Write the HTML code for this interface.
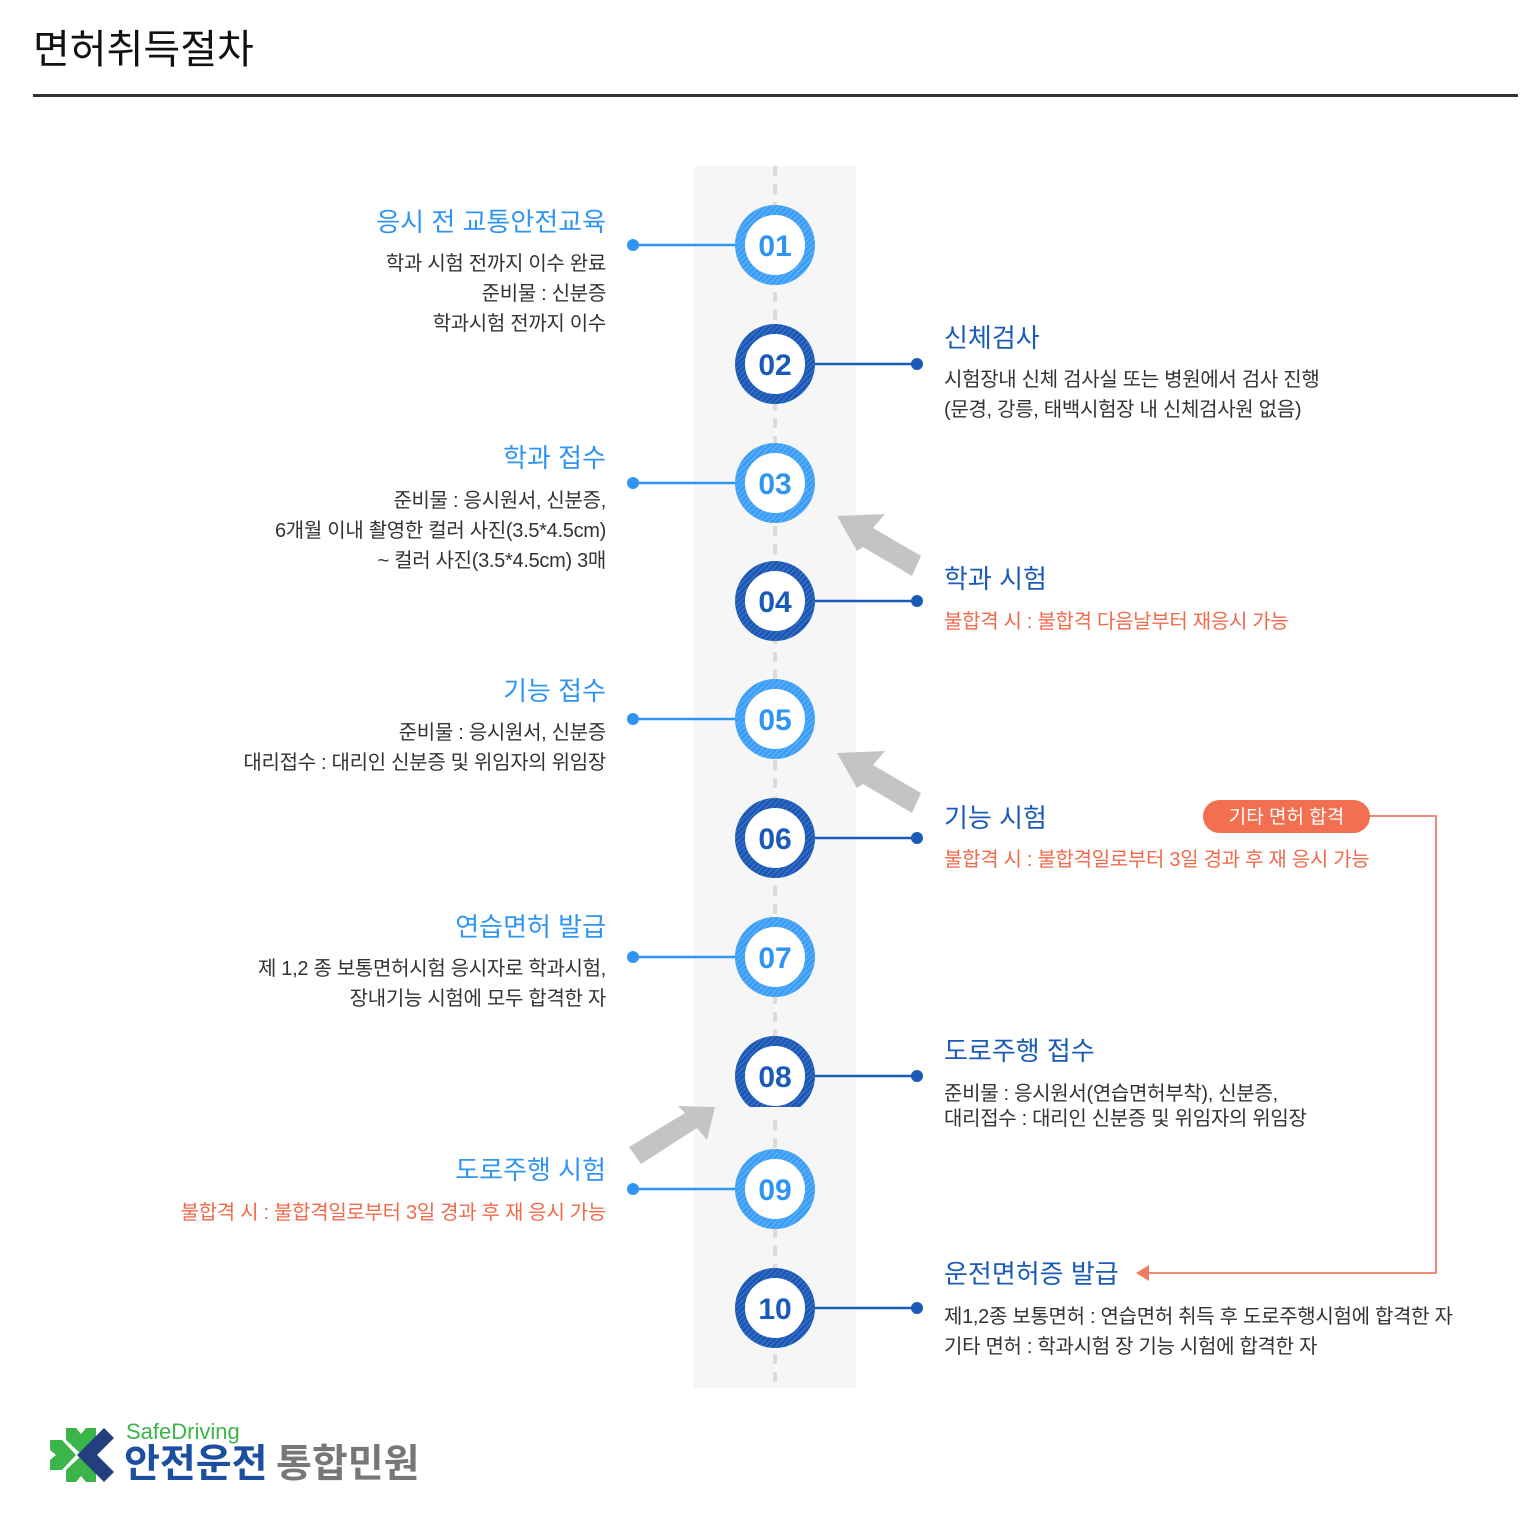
<!DOCTYPE html>
<html><head><meta charset="utf-8">
<style>
*{margin:0;padding:0;box-sizing:border-box}
body{width:1527px;height:1522px;background:#fff;position:relative;overflow:hidden;font-family:"Liberation Sans","Noto Sans CJK KR",sans-serif;}
.t{position:absolute;white-space:nowrap;}
.L{right:921px;text-align:right;}
.R{left:944px;text-align:left;}
.h{font-size:26px;height:34px;line-height:34px;margin-top:2px}
.hl{color:#3094f2;}
.hr{color:#1a5bb8;}
.b{font-size:20px;color:#333;height:30px;line-height:30px;letter-spacing:-0.3px;margin-top:3px}
.o{color:#f06a4a;}
</style></head><body>
<div class="t" style="left:33px;top:25px;font-size:40px;line-height:50px;color:#111;">면허취득절차</div>
<div style="position:absolute;left:33px;top:94px;width:1485px;height:3px;background:#333"></div>

<svg width="1527" height="1522" style="position:absolute;left:0;top:0">
<defs>
<pattern id="pl" width="4" height="4" patternUnits="userSpaceOnUse" patternTransform="rotate(45)"><rect width="4" height="4" fill="#3a9cf5"/><rect width="1.3" height="4" fill="#5fb2fa"/></pattern>
<pattern id="pd" width="4" height="4" patternUnits="userSpaceOnUse" patternTransform="rotate(45)"><rect width="4" height="4" fill="#1b56b3"/><rect width="1.3" height="4" fill="#3a74c8"/></pattern>
</defs>
<rect x="694" y="166" width="162" height="1222" fill="#f6f6f6"/>
<line x1="775" y1="166" x2="775" y2="1388" stroke="#dcdcdc" stroke-width="4" stroke-dasharray="10,8"/>
<g stroke-width="2.5">
<line x1="633" y1="245" x2="740" y2="245" stroke="#3094f2"/><circle cx="633" cy="245" r="6" fill="#3094f2"/>
<line x1="810" y1="364" x2="917" y2="364" stroke="#1a5bb8"/><circle cx="917" cy="364" r="6" fill="#1a5bb8"/>
<line x1="633" y1="483" x2="740" y2="483" stroke="#3094f2"/><circle cx="633" cy="483" r="6" fill="#3094f2"/>
<line x1="810" y1="601" x2="917" y2="601" stroke="#1a5bb8"/><circle cx="917" cy="601" r="6" fill="#1a5bb8"/>
<line x1="633" y1="719" x2="740" y2="719" stroke="#3094f2"/><circle cx="633" cy="719" r="6" fill="#3094f2"/>
<line x1="810" y1="838" x2="917" y2="838" stroke="#1a5bb8"/><circle cx="917" cy="838" r="6" fill="#1a5bb8"/>
<line x1="633" y1="957" x2="740" y2="957" stroke="#3094f2"/><circle cx="633" cy="957" r="6" fill="#3094f2"/>
<line x1="810" y1="1076" x2="917" y2="1076" stroke="#1a5bb8"/><circle cx="917" cy="1076" r="6" fill="#1a5bb8"/>
<line x1="633" y1="1189" x2="740" y2="1189" stroke="#3094f2"/><circle cx="633" cy="1189" r="6" fill="#3094f2"/>
<line x1="810" y1="1308" x2="917" y2="1308" stroke="#1a5bb8"/><circle cx="917" cy="1308" r="6" fill="#1a5bb8"/>
</g>
<g fill="#fff" stroke-width="10">
<circle cx="775" cy="245" r="35" stroke="url(#pl)"/>
<circle cx="775" cy="364" r="35" stroke="url(#pd)"/>
<circle cx="775" cy="483" r="35" stroke="url(#pl)"/>
<circle cx="775" cy="601" r="35" stroke="url(#pd)"/>
<circle cx="775" cy="719" r="35" stroke="url(#pl)"/>
<circle cx="775" cy="838" r="35" stroke="url(#pd)"/>
<circle cx="775" cy="957" r="35" stroke="url(#pl)"/>
<circle cx="775" cy="1076" r="35" stroke="url(#pd)"/>
<circle cx="775" cy="1189" r="35" stroke="url(#pl)"/>
<circle cx="775" cy="1308" r="35" stroke="url(#pd)"/>
</g>
<rect x="730" y="1107" width="90" height="9" fill="#f6f6f6"/>
<g font-family="Liberation Sans, sans-serif" font-size="30" font-weight="bold" text-anchor="middle">
<text x="775" y="256" fill="#3094f2">01</text>
<text x="775" y="375" fill="#1a5bb8">02</text>
<text x="775" y="494" fill="#3094f2">03</text>
<text x="775" y="612" fill="#1a5bb8">04</text>
<text x="775" y="730" fill="#3094f2">05</text>
<text x="775" y="849" fill="#1a5bb8">06</text>
<text x="775" y="968" fill="#3094f2">07</text>
<text x="775" y="1087" fill="#1a5bb8">08</text>
<text x="775" y="1200" fill="#3094f2">09</text>
<text x="775" y="1319" fill="#1a5bb8">10</text>
</g>
<g fill="#c4c4c4">
<polygon points="837,516 885,514 873,528 921,556 912,576 863,547 857,551"/>
<polygon points="837,753 885,751 873,765 921,793 912,813 863,784 857,788"/>
<polygon points="715,1107 707,1140 697,1128 641,1164 629,1147 685,1113 678,1106"/>
</g>
<rect x="1203" y="800" width="167" height="33" rx="16.5" fill="#f26f52"/>
<polyline points="1370,816 1436,816 1436,1273 1146,1273" fill="none" stroke="#f07a62" stroke-width="1.8"/>
<polygon points="1136,1273 1149,1265 1149,1281" fill="#f07a62"/>
<g fill="#3bb54a">
<path d="M66,1428 l10,0 l5,6 l5,-6 l10,0 l0,12 l-15,14 l-15,-14 z"/>
<path d="M66,1482 l10,0 l5,-6 l5,6 l10,0 l0,-12 l-15,-14 l-15,14 z"/>
<path d="M50,1440 l0,10 l6,5 l-6,5 l0,10 l12,0 l14,-15 l-14,-15 z"/>
</g>
<path d="M114,1438 l-10,-10 l-27,27 l27,27 l10,-10 l-17,-17 z" fill="#233f7e"/>
</svg>

<div class="t" style="left:1203px;top:801px;width:167px;height:33px;line-height:33px;text-align:center;color:#fff;font-size:19px;">기타 면허 합격</div>

<div class="t L h hl" style="top:203px">응시 전 교통안전교육</div>
<div class="t L b" style="top:246px">학과 시험 전까지 이수 완료</div>
<div class="t L b" style="top:276px">준비물 : 신분증</div>
<div class="t L b" style="top:306px">학과시험 전까지 이수</div>

<div class="t R h hr" style="top:319px">신체검사</div>
<div class="t R b" style="top:362px">시험장내 신체 검사실 또는 병원에서 검사 진행</div>
<div class="t R b" style="top:392px">(문경, 강릉, 태백시험장 내 신체검사원 없음)</div>

<div class="t L h hl" style="top:439px">학과 접수</div>
<div class="t L b" style="top:483px">준비물 : 응시원서, 신분증,</div>
<div class="t L b" style="top:513px">6개월 이내 촬영한 컬러 사진(3.5*4.5cm)</div>
<div class="t L b" style="top:543px">~ 컬러 사진(3.5*4.5cm) 3매</div>

<div class="t R h hr" style="top:560px">학과 시험</div>
<div class="t R b o" style="top:604px">불합격 시 : 불합격 다음날부터 재응시 가능</div>

<div class="t L h hl" style="top:672px">기능 접수</div>
<div class="t L b" style="top:715px">준비물 : 응시원서, 신분증</div>
<div class="t L b" style="top:745px">대리접수 : 대리인 신분증 및 위임자의 위임장</div>

<div class="t R h hr" style="top:799px">기능 시험</div>
<div class="t R b o" style="top:842px">불합격 시 : 불합격일로부터 3일 경과 후 재 응시 가능</div>

<div class="t L h hl" style="top:908px">연습면허 발급</div>
<div class="t L b" style="top:951px">제 1,2 종 보통면허시험 응시자로 학과시험,</div>
<div class="t L b" style="top:981px">장내기능 시험에 모두 합격한 자</div>

<div class="t R h hr" style="top:1032px">도로주행 접수</div>
<div class="t R b" style="top:1076px">준비물 : 응시원서(연습면허부착), 신분증,</div>
<div class="t R b" style="top:1101px">대리접수 : 대리인 신분증 및 위임자의 위임장</div>

<div class="t L h hl" style="top:1151px">도로주행 시험</div>
<div class="t L b o" style="top:1195px">불합격 시 : 불합격일로부터 3일 경과 후 재 응시 가능</div>

<div class="t R h hr" style="top:1255px">운전면허증 발급</div>
<div class="t R b" style="top:1299px">제1,2종 보통면허 : 연습면허 취득 후 도로주행시험에 합격한 자</div>
<div class="t R b" style="top:1329px">기타 면허 : 학과시험 장 기능 시험에 합격한 자</div>

<div class="t" style="left:126px;top:1419px;font-size:22px;line-height:26px;color:#3bb54a;">SafeDriving</div>
<div class="t" style="left:124px;top:1442px;font-size:39px;line-height:46px;color:#1d4fa0;font-weight:bold;">안전운전</div>
<div class="t" style="left:276px;top:1442px;font-size:39px;line-height:46px;color:#777;font-weight:bold;">통합민원</div>
</body></html>
